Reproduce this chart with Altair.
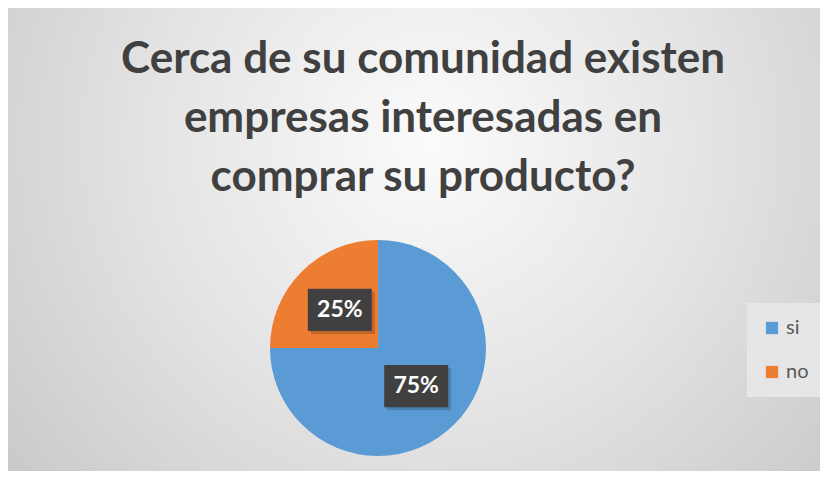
import altair as alt
import pandas as pd

# ---- data ----
categories = ["si", "no"]
values = [75, 25]
order_idx = [0, 1]
colors = ["#5B9BD5", "#ED7D31"]
title_lines = [
    "Cerca de su comunidad existen",
    "empresas interesadas en",
    "comprar su producto?",
]

# ---- layout constants ----
W, H = 740, 232          # plot view
R = 108                  # pie radius (px)
PAD = {"left": 0, "top": 224, "right": 72, "bottom": 7}
TOTAL_W = W + PAD["left"] + PAD["right"]
TOTAL_H = H + PAD["top"] + PAD["bottom"]
LABEL_FRAC = 0.5         # label distance as a fraction of pie radius

df = pd.DataFrame({"cat": categories, "value": values, "idx": order_idx})
bg_df = pd.DataFrame({"k": [0]})

# background radial gradient covering the whole canvas
bg = alt.Chart(bg_df).mark_rect(
    fill={
        "gradient": "radial",
        "x1": 0.52, "y1": 0.38, "r1": 0.0,
        "x2": 0.52, "y2": 0.38, "r2": 0.75,
        "stops": [
            {"offset": 0.0, "color": "#fbfbfb"},
            {"offset": 0.45, "color": "#e4e4e4"},
            {"offset": 1.0, "color": "#c2c2c2"},
        ],
    }
).encode(
    x=alt.value(-PAD["left"]), x2=alt.value(TOTAL_W - PAD["left"]),
    y=alt.value(-PAD["top"]), y2=alt.value(TOTAL_H - PAD["top"]),
)

pie = alt.Chart(df).mark_arc(outerRadius=R).encode(
    theta=alt.Theta("value:Q", stack=True),
    order=alt.Order("idx:Q"),
    color=alt.Color(
        "cat:N",
        scale=alt.Scale(domain=categories, range=colors),
        sort=categories,
        legend=alt.Legend(
            title=None,
            orient="none",
            legendX=W - 1,
            legendY=71,
            symbolType="square",
            symbolSize=150,
            symbolStrokeWidth=0,
            labelFont="Lato",
            labelFontSize=20,
            labelColor="#595959",
            labelOffset=4,
            rowPadding=24,
            padding=15,
            fillColor="#e6e6e6",
        ),
    ),
)

xs = W / 2 / R
ys = H / 2 / R
xscale = alt.Scale(domain=[-xs, xs], nice=False, zero=False)
yscale = alt.Scale(domain=[-ys, ys], nice=False, zero=False)

lab_base = alt.Chart(df).transform_joinaggregate(
    total="sum(value)"
).transform_window(
    cum="sum(value)", sort=[alt.SortField("idx", order="ascending")]
).transform_calculate(
    mid="(datum.cum - datum.value / 2) / datum.total * 2 * PI",
    pct="datum.value / datum.total",
).transform_calculate(
    px=f"{LABEL_FRAC} * sin(datum.mid)",
    py=f"{LABEL_FRAC} * cos(datum.mid)",
).encode(
    x=alt.X("px:Q", scale=xscale, axis=None),
    y=alt.Y("py:Q", scale=yscale, axis=None),
)

box_path = "M-1,-0.66H1V0.66H-1Z"
shadow = lab_base.mark_point(
    shape=box_path, size=4096, filled=True, color="#000000", opacity=0.18,
    xOffset=3, yOffset=3, strokeWidth=0,
)
box = lab_base.mark_point(
    shape=box_path, size=4096, filled=True, color="#404040", opacity=1,
    strokeWidth=0,
)
text = lab_base.mark_text(
    font="Lato", fontSize=23, fontWeight="bold", color="white",
    baseline="middle", align="center",
).encode(text=alt.Text("pct:Q", format=".0%"))

chart = alt.layer(bg, pie, shadow, box, text).properties(
    width=W,
    height=H,
    title=alt.TitleParams(
        text=title_lines,
        font="Lato",
        fontSize=44,
        fontWeight="bold",
        color="#404040",
        lineHeight=59,
        anchor="middle",
        frame="group",
        dx=45,
        dy=PAD["top"] + 43,
        baseline="bottom",
        offset=31,
    ),
    autosize=alt.AutoSizeParams(type="none"),
    padding=PAD,
).configure_view(stroke=None).configure(background="#d4d4d4")

chart.save("out.html", embed_options={"renderer": "svg", "actions": False})
